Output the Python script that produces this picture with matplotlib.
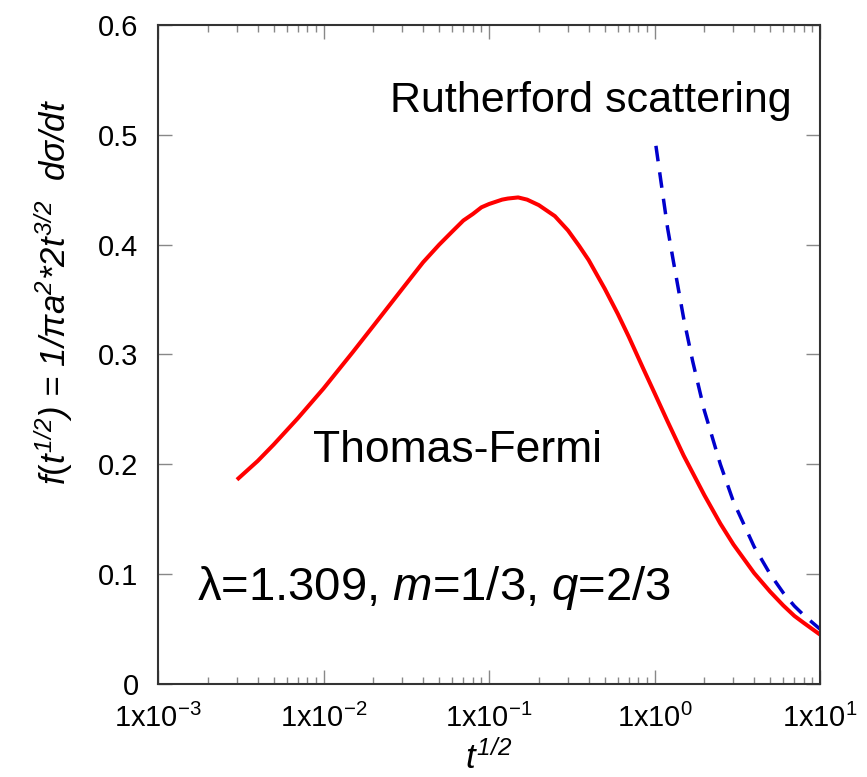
import numpy as np
import matplotlib
matplotlib.use('Agg')
import matplotlib.pyplot as plt
from matplotlib.ticker import LogLocator, NullFormatter, FixedLocator

plt.rcParams['font.family'] = ['Liberation Sans', 'DejaVu Sans']
plt.rcParams['mathtext.fontset'] = 'custom'
plt.rcParams['mathtext.rm'] = 'Liberation Sans'
plt.rcParams['mathtext.it'] = 'Liberation Sans:italic'
plt.rcParams['mathtext.sf'] = 'Liberation Sans:italic'

# Thomas-Fermi curve
tf_x = [0.003, 0.004, 0.005, 0.007, 0.01, 0.015, 0.02, 0.03, 0.04, 0.05, 0.06,
        0.07, 0.08, 0.09, 0.1, 0.12, 0.13, 0.15, 0.17, 0.2, 0.25, 0.3, 0.35, 0.4,
        0.5, 0.6, 0.7, 0.85, 1.0, 1.2, 1.5, 2.0, 2.5, 3.0, 4.0, 5.0, 6.0, 7.0, 8.0, 10.0]
tf_y = [0.186, 0.203, 0.218, 0.242, 0.269, 0.302, 0.326, 0.360, 0.384, 0.400, 0.412,
        0.422, 0.428, 0.434, 0.437, 0.441, 0.442, 0.443, 0.441, 0.436, 0.426, 0.413, 0.399, 0.386,
        0.360, 0.337, 0.316, 0.288, 0.265, 0.239, 0.208, 0.172, 0.146, 0.127, 0.101, 0.084,
        0.0715, 0.062, 0.0555, 0.045]

# Rutherford scattering
ru_x = [1.02, 1.1, 1.2, 1.3, 1.5, 1.7, 2.0, 2.5, 3.0, 4.0, 5.0, 6.0, 7.0, 8.0, 10.0]
ru_y = [0.49, 0.455, 0.415, 0.385, 0.333, 0.294, 0.249, 0.200, 0.166, 0.125, 0.100,
        0.083, 0.071, 0.0625, 0.050]

yticks = [0, 0.1, 0.2, 0.3, 0.4, 0.5, 0.6]
ylabels = ['0', '0.1', '0.2', '0.3', '0.4', '0.5', '0.6']
xticks = [1e-3, 1e-2, 1e-1, 1e0, 1e1]
xlabels = ['1x10$^{-3}$', '1x10$^{-2}$', '1x10$^{-1}$', '1x10$^{0}$', '1x10$^{1}$']

fig = plt.figure(figsize=(8.67, 7.77), dpi=100)
ax = fig.add_axes([158/867, 1-684/777, (820-158)/867, (684-25)/777])

ax.plot(tf_x, tf_y, color='red', lw=2.9, solid_capstyle='butt')
ax.plot(ru_x, ru_y, color='#0000cc', lw=2.5, dashes=(4.5, 3.2))

ax.set_xscale('log')
ax.set_xlim(1e-3, 1e1)
ax.set_ylim(0, 0.6)
ax.xaxis.set_major_locator(FixedLocator(xticks))
ax.set_xticklabels(xlabels)
ax.xaxis.set_minor_locator(LogLocator(base=10, subs=np.arange(2, 10)))
ax.xaxis.set_minor_formatter(NullFormatter())
ax.set_yticks(yticks)
ax.set_yticklabels(ylabels)

ax.tick_params(which='both', direction='in', top=True, right=True,
               color='#888888', labelsize=21, width=1)
ax.tick_params(which='major', length=10)
ax.tick_params(axis='y', which='major', pad=14)
ax.tick_params(axis='x', which='major', pad=14)
ax.tick_params(which='minor', length=5)
for s in ax.spines.values():
    s.set_color('#333333')
    s.set_linewidth(1.5)

ax.set_ylabel(r'$f(t^{\mathsf{1/2}}$) = 1/πa$^{\mathsf{2}}$*2$t^{\mathsf{3/2}}$  dσ/dt',
              fontsize=25, fontstyle='italic')
ax.yaxis.set_label_coords(-0.126, 0.595)
ax.set_xlabel(r'$t^{\mathsf{1/2}}$', fontsize=25, labelpad=6)

ax.text(0.0087, 0.2024, 'Thomas-Fermi', fontsize=32, va='baseline')
ax.text(0.0252, 0.5205, 'Rutherford scattering', fontsize=31, va='baseline')
ax.text(0.00172, 0.0766, 'λ=1.309, $m$=1/3, $q$=2/3', fontsize=34, va='baseline')

fig.savefig('out.png', dpi=100)
